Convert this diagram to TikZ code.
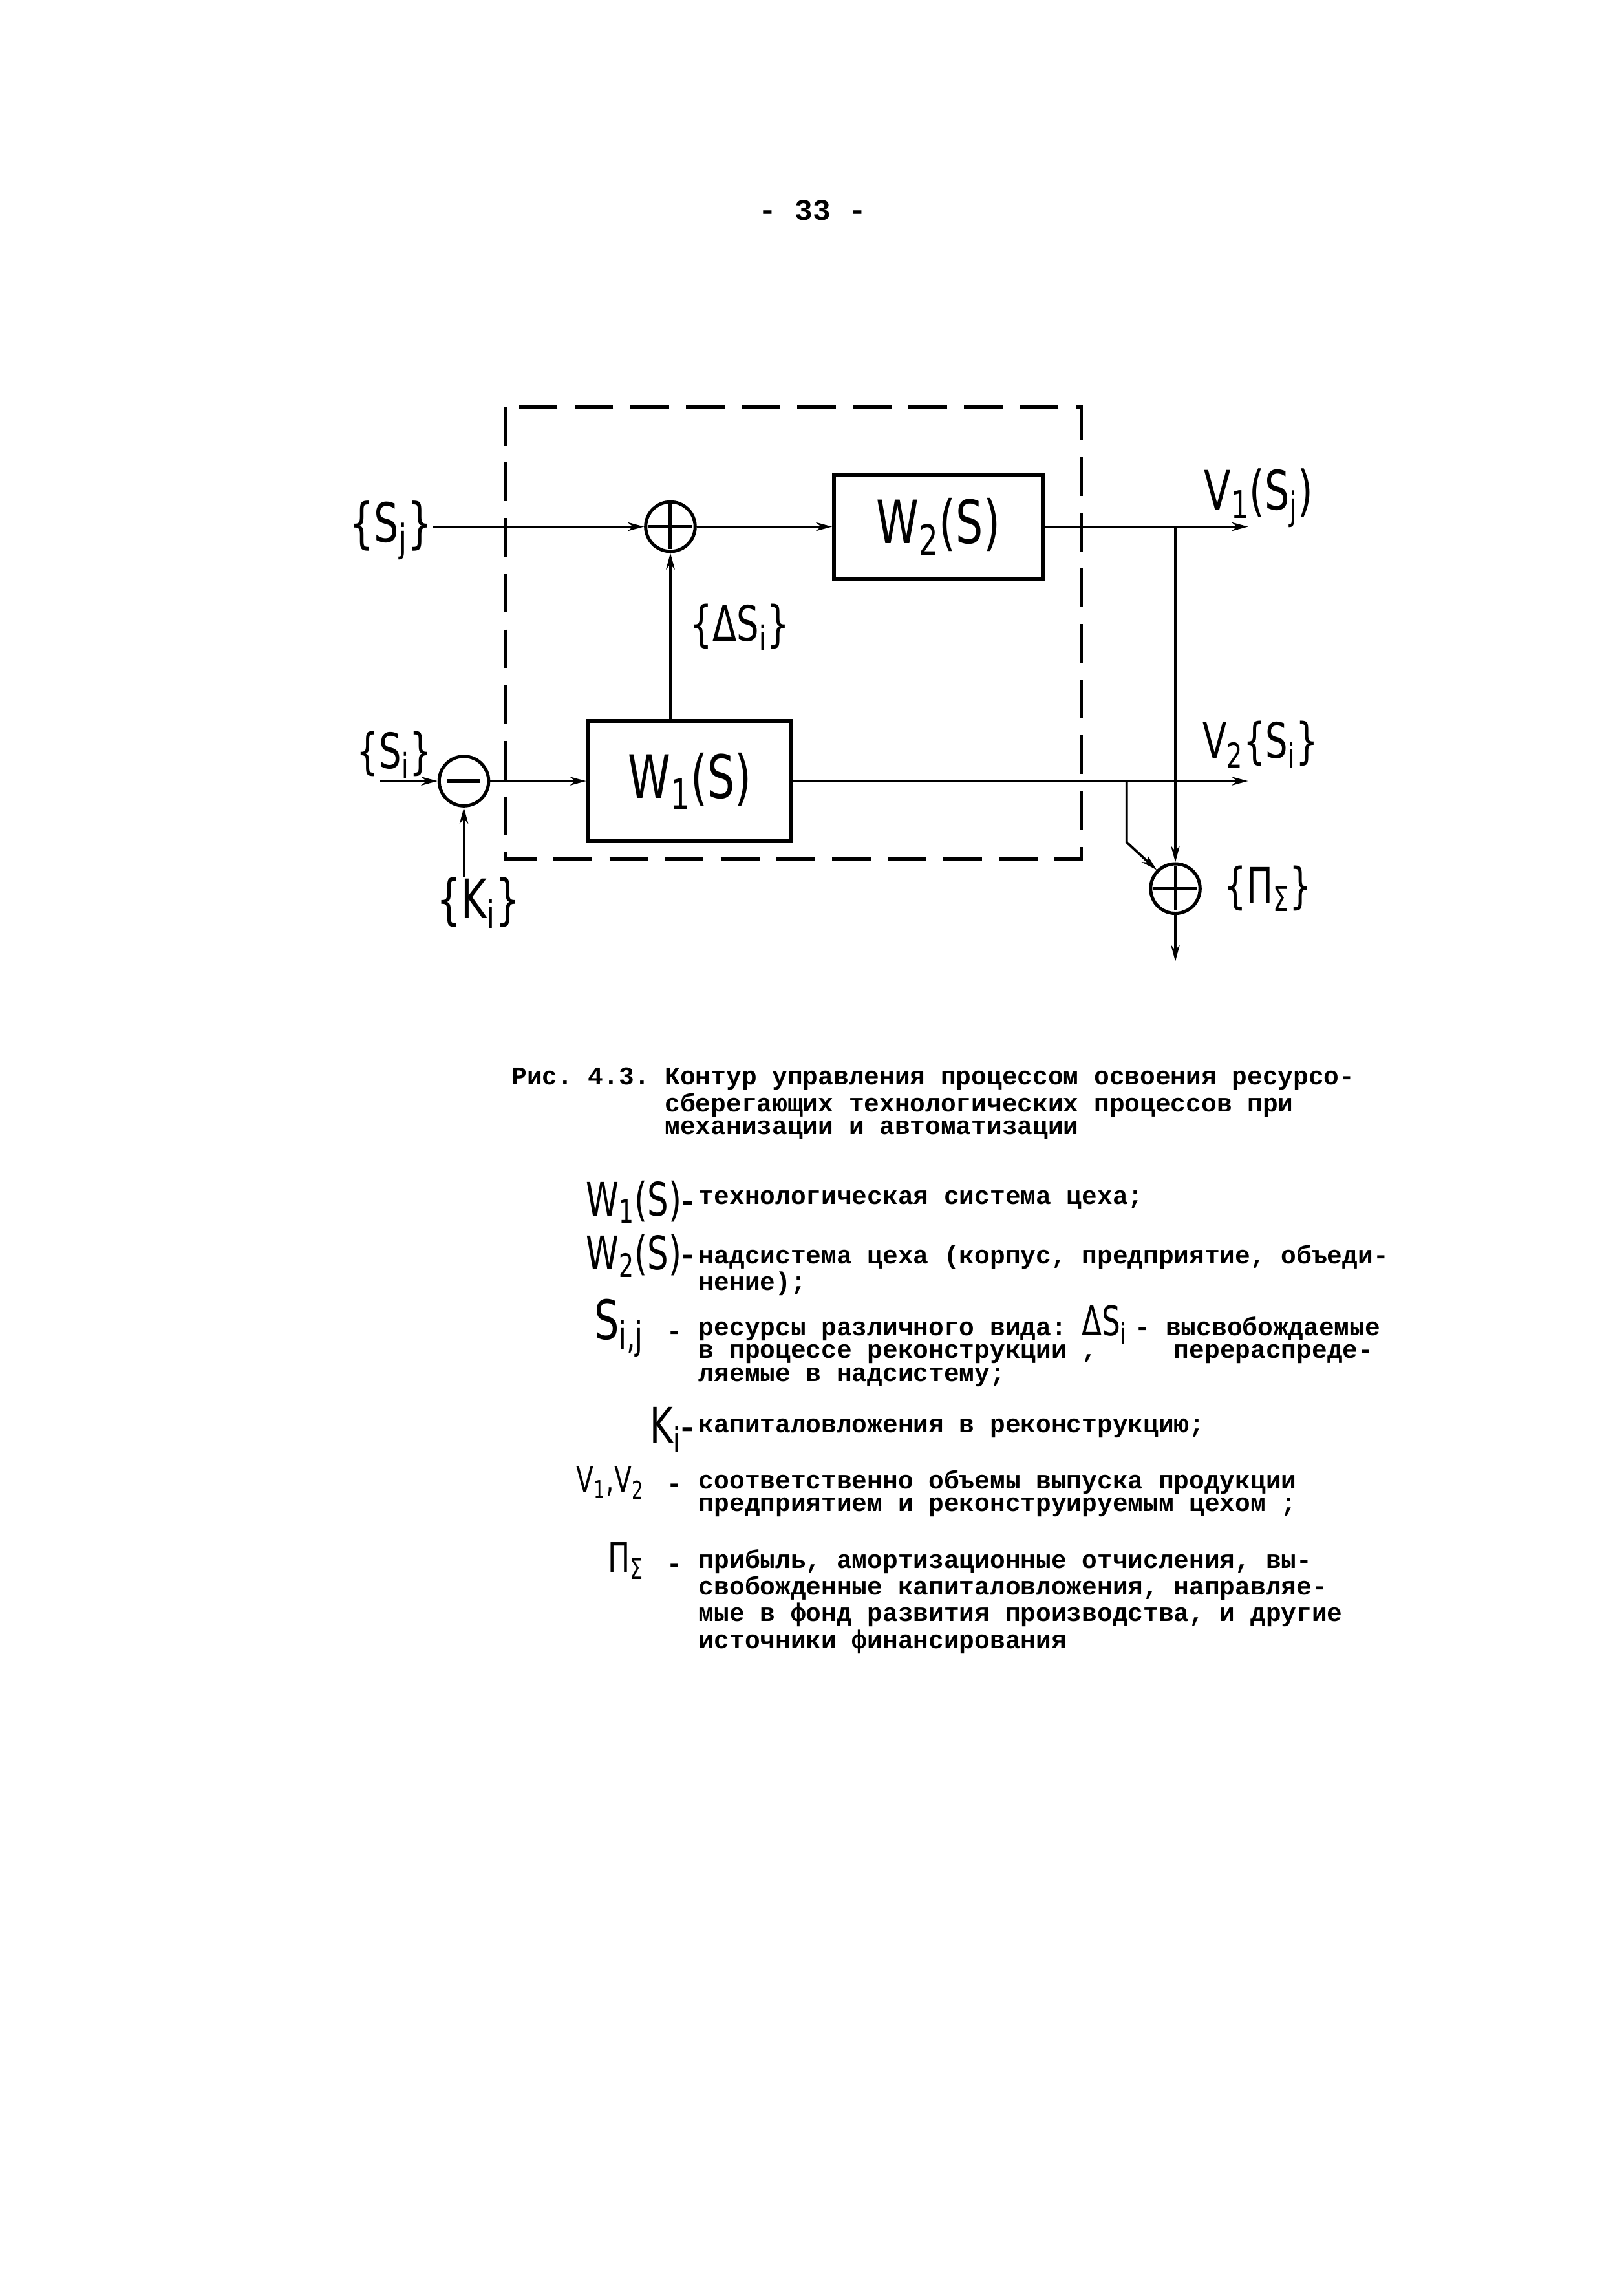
\documentclass[tikz,border=0pt]{standalone}
\usepackage{fontspec}
\usepackage{graphicx}
\setmonofont{Liberation Mono}
\newfontfamily\hand{DejaVu Sans}
\usetikzlibrary{arrows.meta, positioning}
\newcommand{\hw}[1]{\scalebox{0.72}[1]{\hand\mdseries\upshape #1}}
\newcommand{\sub}[1]{\textsubscript{#1}}
\newcommand{\ind}{\hspace*{6em}}
\newcommand{\tdash}{{\ttfamily\bfseries\fontsize{9.4}{9}\selectfont\kern0.9em-\kern0.6em}}

\begin{document}
\begin{tikzpicture}[
    >={Stealth[length=6pt, width=3.2pt]},
    block/.style={rectangle, draw, line width=1.4pt, minimum width=2.7cm, minimum height=1.35cm, inner sep=0pt, font=\fontsize{22}{22}\selectfont},
    sumbox/.style={circle, draw, line width=1.2pt, minimum size=0.64cm, inner sep=0pt},
    sumplus/.style={sumbox, path picture={\draw[line width=1.2pt] ([yshift=-1pt]path picture bounding box.north) -- ([yshift=1pt]path picture bounding box.south) ([xshift=1pt]path picture bounding box.west) -- ([xshift=-1pt]path picture bounding box.east);}},
    summinus/.style={sumbox, path picture={\draw[line width=1.4pt] ([xshift=3pt]path picture bounding box.west) -- ([xshift=-3pt]path picture bounding box.east);}},
    line/.style={draw, ->, line width=0.9pt},
    dashbox/.style={draw, line width=1.2pt, dash pattern=on 0.5cm off 0.22cm},
    lbl/.style={inner sep=0pt, font=\fontsize{20}{20}\selectfont},
    typed/.style={inner sep=0pt, align=left, font=\ttfamily\bfseries\fontsize{9.4}{8.4}\selectfont},
    sym/.style={inner sep=0pt, font=\fontsize{17}{17}\selectfont}
  ]
    \useasboundingbox (0,0) rectangle (21.0,-29.43);
    \fill[white] (0,0) rectangle (21.0,-29.43);

    \node (pg) [typed, font=\ttfamily\bfseries\fontsize{11}{11}\selectfont] at (10.51,-2.72) {- 33 -};

    \draw[dashbox] (6.53,-5.26) rectangle (13.98,-11.11);

    \node (s1) [sumplus] at (8.67,-6.81) {};
    \node (w2) [block, right=1.75cm of s1] {\hw{W\sub{2}(S)}};
    \node (w1) [block, minimum width=2.63cm, minimum height=1.56cm] at (8.92,-10.10) {\hw{W\sub{1}(S)}};
    \node (s2) [summinus, left=1.24cm of w1] {};
    \node (s3) [sumplus] at (15.2,-11.49) {};

    \node (lsj) [lbl, anchor=east] at (5.6,-6.86) {\hw{\{S\sub{j}\}}};
    \node (lds) [lbl, font=\fontsize{18}{18}\selectfont] at (9.57,-8.11) {\hw{\{ΔS\sub{i}\}}};
    \node (lsi) [lbl, font=\fontsize{18}{18}\selectfont] at (5.1,-9.76) {\hw{\{S\sub{i}\}}};
    \node (lki) [lbl] at (6.19,-11.67) {\hw{\{K\sub{i}\}}};
    \node (lv1) [lbl] at (16.28,-6.44) {\hw{V\sub{1}(S\sub{j})}};
    \node (lv2) [lbl, font=\fontsize{18}{18}\selectfont] at (16.3,-9.63) {\hw{V\sub{2}\{S\sub{i}\}}};
    \node (lps) [lbl, font=\fontsize{18}{18}\selectfont] at (16.4,-11.49) {\hw{\{Π\sub{Σ}\}}};

    \coordinate (o1) at (16.14,-6.81);
    \coordinate (o2) at (16.14,-10.10);
    \coordinate (i2) at (4.92,-10.10);
    \coordinate (j1) at (15.2,-6.81);
    \coordinate (b1) at (14.57,-10.10);
    \coordinate (b2) at (14.57,-10.89);
    \coordinate (o3) at (15.2,-12.43);

    \draw[line] (lsj.east |- s1.west) -- (s1.west);
    \draw[line] (s1) -- (w2);
    \draw[line] (w1.north -| s1) -- (s1.south);
    \draw[line] (w2) -- (o1);
    \draw[line] (j1) -- (s3.north);
    \draw[line] (i2) -- (s2.west);
    \draw[line] (s2) -- (w1);
    \draw[line] (s2.south |- lki.north) -- (s2.south);
    \draw[line] (w1) -- (o2);
    \draw[line] (b1) -- (b2) -- (s3.north west);
    \draw[line] (s3) -- (o3);

    \node (cap) [typed, anchor=north west] at (6.61,-13.80) {Рис. 4.3. Контур управления процессом освоения ресурсо-\\\ind сберегающих технологических процессов при\\\ind механизации и автоматизации};

    \node (k1) [sym, anchor=east] at (8.98,-15.54) {\hw{W\sub{1}(S)-}};
    \node (t1) [typed, anchor=north west] at (9.03,-15.39) {технологическая система цеха;};
    \node (k2) [sym, anchor=east] at (8.98,-16.24) {\hw{W\sub{2}(S)-}};
    \node (t2) [typed, anchor=north west] at (9.03,-16.09) {надсистема цеха (корпус, предприятие, объеди-\\нение);};
    \node (k3) [sym, font=\fontsize{20}{20}\selectfont, anchor=east] at (9.03,-17.17) {\hw{S\sub{i,j}}\tdash};
    \node (t3) [typed, anchor=north west] at (9.03,-17.02) {ресурсы различного вида: \smash{\fontsize{15}{8}\selectfont\hw{ΔS\sub{i}}}\kern0.3em- высвобождаемые\\в процессе реконструкции ,\hspace*{3em}перераспреде-\\ляемые в надсистему;};
    \node (k4) [sym, font=\fontsize{18}{18}\selectfont, anchor=east] at (8.98,-18.49) {\hw{K\sub{i}-}};
    \node (t4) [typed, anchor=north west] at (9.03,-18.34) {капиталовложения в реконструкцию;};
    \node (k5) [sym, font=\fontsize{13}{13}\selectfont, anchor=east] at (9.03,-19.17) {\hw{V\sub{1},V\sub{2}}\tdash};
    \node (t5) [typed, anchor=north west] at (9.03,-19.00) {соответственно объемы выпуска продукции\\предприятием и реконструируемым цехом ;};
    \node (k6) [sym, font=\fontsize{15}{15}\selectfont, anchor=east] at (9.03,-20.18) {\hw{Π\sub{Σ}}\tdash};
    \node (t6) [typed, anchor=north west] at (9.03,-20.03) {прибыль, амортизационные отчисления, вы-\\свобожденные капиталовложения, направляе-\\мые в фонд развития производства, и другие\\источники финансирования};
  \end{tikzpicture}
\end{document}
